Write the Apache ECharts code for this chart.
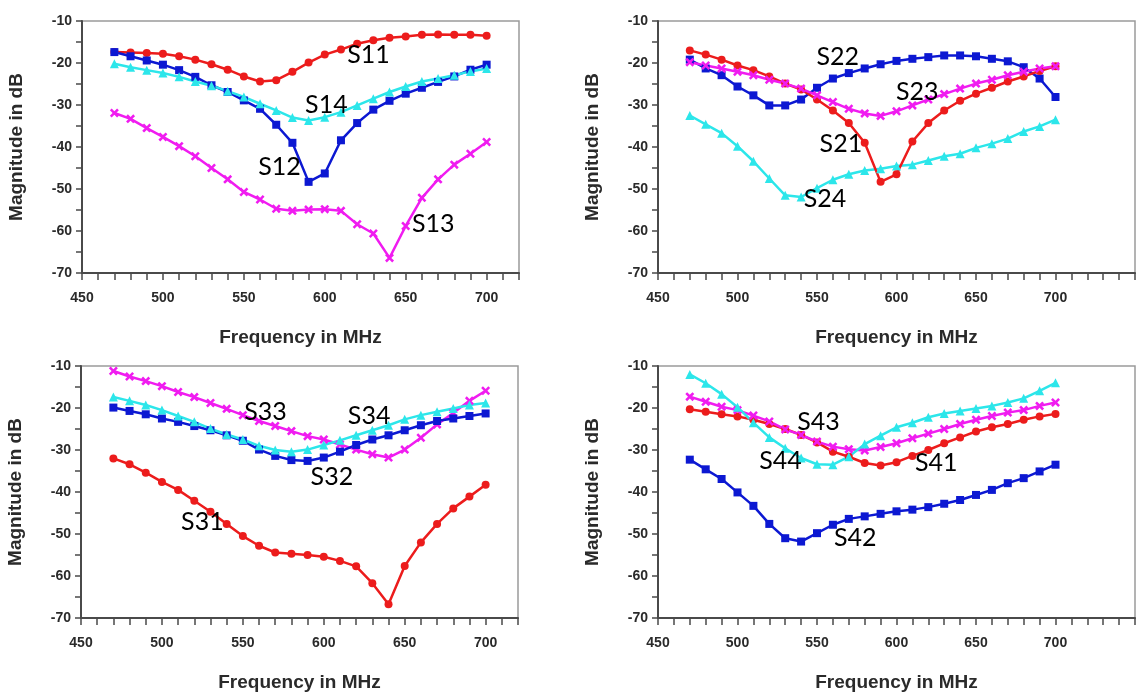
<!DOCTYPE html>
<html>
<head>
<meta charset="utf-8">
<script src="https://cdn.jsdelivr.net/npm/echarts@6/dist/echarts.min.js"></script>
<style>
  html, body { margin: 0; padding: 0; background: #ffffff; }
  #chart { width: 1138px; height: 696px; }
</style>
</head>
<body>
<div id="chart"></div>
<script>
// Frequency sweep (MHz) shared by all measured S-parameter curves
const freqs = [470, 480, 490, 500, 510, 520, 530, 540, 550, 560, 570, 580,
               590, 600, 610, 620, 630, 640, 650, 660, 670, 680, 690, 700];

// Port 1
const s11 = [-17.4, -17.5, -17.6, -17.8, -18.4, -19.2, -20.3, -21.6, -23.2, -24.4, -24.1, -22.1,
             -19.9, -18.0, -16.8, -15.4, -14.6, -14.0, -13.7, -13.3, -13.2, -13.3, -13.3, -13.5];
const s12 = [-17.4, -18.4, -19.4, -20.4, -21.7, -23.3, -25.3, -26.9, -28.9, -30.9, -34.7, -39.0,
             -48.3, -46.3, -38.4, -34.3, -31.1, -29.0, -27.3, -25.9, -24.5, -23.2, -21.6, -20.4];
const s13 = [-31.9, -33.3, -35.5, -37.6, -39.8, -42.2, -45.0, -47.7, -50.7, -52.5, -54.7, -55.2,
             -54.9, -54.8, -55.2, -58.4, -60.6, -66.4, -58.8, -52.1, -47.7, -44.2, -41.6, -38.8];
const s14 = [-20.2, -21.0, -21.7, -22.4, -23.3, -24.4, -25.4, -26.7, -28.1, -29.7, -31.3, -33.0,
             -33.7, -32.9, -31.7, -30.1, -28.5, -26.9, -25.6, -24.4, -23.7, -22.9, -22.0, -21.3];

// Port 2
const s21 = [-17.0, -18.0, -19.2, -20.6, -21.7, -23.2, -24.9, -26.3, -28.7, -31.3, -34.3, -39.0,
             -48.3, -46.5, -38.7, -34.3, -31.3, -29.0, -27.3, -25.9, -24.4, -23.2, -21.9, -20.8];
const s22 = [-19.2, -21.3, -22.9, -25.6, -27.7, -30.1, -30.1, -28.7, -25.9, -23.7, -22.4, -21.3,
             -20.3, -19.5, -19.0, -18.6, -18.2, -18.2, -18.4, -19.0, -19.6, -21.0, -23.7, -28.1];
const s23 = [-19.8, -20.6, -21.3, -22.1, -22.9, -24.0, -24.9, -26.1, -27.7, -29.3, -30.9, -32.0,
             -32.6, -31.5, -30.1, -28.7, -27.4, -26.1, -24.9, -24.0, -22.9, -22.1, -21.3, -20.8];
const s24 = [-32.5, -34.6, -36.7, -39.8, -43.4, -47.5, -51.5, -51.9, -49.8, -47.8, -46.5, -45.6,
             -45.2, -44.5, -44.2, -43.2, -42.2, -41.6, -40.2, -39.2, -38.0, -36.3, -35.1, -33.5];

// Port 3
const s31 = [-32.0, -33.4, -35.4, -37.6, -39.5, -42.1, -44.7, -47.6, -50.5, -52.8, -54.4, -54.7,
             -55.0, -55.4, -56.4, -57.7, -61.7, -66.7, -57.6, -52.0, -47.6, -43.9, -41.1, -38.3];
const s32 = [-19.9, -20.7, -21.5, -22.5, -23.3, -24.3, -25.3, -26.5, -27.8, -29.9, -31.4, -32.4,
             -32.6, -31.8, -30.4, -28.8, -27.5, -26.5, -25.3, -24.1, -23.1, -22.5, -21.9, -21.3];
const s33 = [-11.2, -12.5, -13.6, -14.8, -16.2, -17.4, -18.8, -20.2, -21.7, -23.1, -24.3, -25.5,
             -26.7, -27.5, -28.7, -29.9, -31.0, -31.8, -29.9, -27.1, -23.9, -21.2, -18.3, -15.9];
const s34 = [-17.4, -18.3, -19.3, -20.5, -21.9, -23.3, -24.9, -26.3, -27.5, -29.0, -30.0, -30.4,
             -29.9, -28.8, -27.7, -26.5, -25.3, -24.1, -22.7, -21.7, -20.9, -20.1, -19.3, -18.8];

// Port 4
const s41 = [-20.3, -20.9, -21.5, -22.0, -22.8, -23.8, -25.0, -26.4, -28.2, -30.4, -31.6, -33.1,
             -33.7, -32.9, -31.4, -30.0, -28.4, -27.0, -25.6, -24.6, -23.8, -22.8, -22.0, -21.4];
const s42 = [-32.3, -34.6, -36.9, -40.1, -43.3, -47.6, -51.0, -51.8, -49.8, -47.8, -46.4, -45.8,
             -45.2, -44.6, -44.2, -43.6, -42.8, -41.9, -40.7, -39.5, -37.9, -36.7, -35.1, -33.5];
const s43 = [-17.3, -18.5, -19.7, -20.5, -21.8, -23.2, -25.1, -26.4, -28.0, -29.2, -29.8, -30.1,
             -29.3, -28.4, -27.2, -26.1, -25.0, -23.8, -22.8, -21.9, -21.1, -20.5, -19.5, -18.7];
const s44 = [-12.0, -14.1, -16.7, -19.8, -23.5, -27.0, -29.6, -31.9, -33.4, -33.5, -31.6, -28.6,
             -26.6, -24.6, -23.5, -22.2, -21.3, -20.7, -20.1, -19.5, -18.7, -17.7, -15.9, -14.0];

// Y-axis ticks (dB) and x-axis label step (MHz)
const dbTicks = { min: -70, max: -10, step: 5, labelStep: 10 };
const freqLabelStep = 50;

// Curve name tags, anchored in data units [MHz, dB] on each panel
const tags = [
  { panel: 0, text: 'S11', at: [627, -18.0] },
  { panel: 0, text: 'S14', at: [601, -30.1] },
  { panel: 0, text: 'S12', at: [572, -44.8] },
  { panel: 0, text: 'S13', at: [667, -58.4] },
  { panel: 1, text: 'S22', at: [563, -18.6] },
  { panel: 1, text: 'S23', at: [613, -26.9] },
  { panel: 1, text: 'S21', at: [565, -39.2] },
  { panel: 1, text: 'S24', at: [555, -52.3] },
  { panel: 2, text: 'S33', at: [564, -20.9] },
  { panel: 2, text: 'S34', at: [628, -21.9] },
  { panel: 2, text: 'S32', at: [605, -36.5] },
  { panel: 2, text: 'S31', at: [525, -47.1] },
  { panel: 3, text: 'S43', at: [551, -23.2] },
  { panel: 3, text: 'S44', at: [527, -32.6] },
  { panel: 3, text: 'S41', at: [625, -33.1] },
  { panel: 3, text: 'S42', at: [574, -51.0] }
];

const RED = '#ec1c1c', BLUE = '#0c18d2', MAGENTA = '#f01cf0', CYAN = '#2ce6ea';
const CROSS = 'path://M2,0 L5,3 L8,0 L10,2 L7,5 L10,8 L8,10 L5,7 L2,10 L0,8 L3,5 L0,2 Z';

const styleOf = {
  red:     { color: RED,     symbol: 'circle',   size: 8 },
  blue:    { color: BLUE,    symbol: 'rect',     size: 8 },
  magenta: { color: MAGENTA, symbol: CROSS,      size: 9 },
  cyan:    { color: CYAN,    symbol: 'triangle', size: 9 }
};

// Draw order within each panel follows the curves' stacking
const panels = [
  [['S11', s11, 'red'], ['S13', s13, 'magenta'], ['S12', s12, 'blue'], ['S14', s14, 'cyan']],
  [['S24', s24, 'cyan'], ['S22', s22, 'blue'], ['S21', s21, 'red'], ['S23', s23, 'magenta']],
  [['S31', s31, 'red'], ['S33', s33, 'magenta'], ['S32', s32, 'blue'], ['S34', s34, 'cyan']],
  [['S42', s42, 'blue'], ['S41', s41, 'red'], ['S43', s43, 'magenta'], ['S44', s44, 'cyan']]
];

const grids = [
  { left: 82,  top: 21,  width: 437, height: 252, xMax: 720 },
  { left: 658, top: 21,  width: 485, height: 252, xMax: 750 },
  { left: 81,  top: 366, width: 437, height: 252, xMax: 720 },
  { left: 658, top: 366, width: 485, height: 252, xMax: 750 }
];

const tickFont = {
  fontFamily: '"Liberation Sans", Arial, sans-serif',
  fontWeight: 'bold',
  fontSize: 14,
  color: '#2a2a2a'
};
const nameFont = {
  fontFamily: '"Liberation Sans", Arial, sans-serif',
  fontWeight: 'bold',
  fontSize: 19,
  color: '#2a2a2a'
};

const option = {
  backgroundColor: '#ffffff',
  animation: false,
  grid: grids.map(g => ({
    left: g.left, top: g.top, width: g.width, height: g.height,
    show: true, borderColor: '#9a9a9a', borderWidth: 1.5, backgroundColor: 'transparent'
  })),
  xAxis: grids.map((g, i) => ({
    type: 'value', gridIndex: i,
    min: 450, max: g.xMax, interval: 10,
    name: 'Frequency in MHz', nameLocation: 'middle', nameGap: 55,
    nameTextStyle: nameFont,
    axisLine: { show: true, onZero: false, lineStyle: { color: '#4a4a4a', width: 2 } },
    axisTick: { show: true, inside: false, length: 7, lineStyle: { color: '#4a4a4a', width: 1.5 } },
    axisLabel: Object.assign({
      margin: 18,
      showMinLabel: true, showMaxLabel: true,
      formatter: v => (v % freqLabelStep === 0 && v <= 700) ? String(v) : ''
    }, tickFont),
    splitLine: { show: false }
  })),
  yAxis: grids.map((g, i) => ({
    type: 'value', gridIndex: i,
    min: dbTicks.min, max: dbTicks.max, interval: dbTicks.step,
    name: 'Magnitude in dB', nameLocation: 'middle', nameGap: 56, nameRotate: 90,
    nameTextStyle: nameFont,
    axisLine: { show: true, onZero: false, lineStyle: { color: '#4a4a4a', width: 2 } },
    axisTick: { show: true, inside: false, length: 6, lineStyle: { color: '#4a4a4a', width: 1.5 } },
    axisLabel: Object.assign({
      margin: 10,
      formatter: v => (v % dbTicks.labelStep === 0) ? String(v) : ''
    }, tickFont),
    splitLine: { show: false }
  })),
  series: []
};

panels.forEach((curves, p) => {
  curves.forEach(([name, values, key]) => {
    const st = styleOf[key];
    const myTags = tags.filter(t => t.panel === p && t.text === name);
    option.series.push({
      type: 'line',
      name: name,
      xAxisIndex: p,
      yAxisIndex: p,
      data: freqs.map((f, k) => [f, values[k]]),
      symbol: st.symbol,
      symbolSize: st.size,
      showAllSymbol: true,
      lineStyle: { color: st.color, width: 2.5 },
      itemStyle: { color: st.color, borderWidth: 0 },
      emphasis: { disabled: true },
      z: 3,
      markPoint: myTags.length ? {
        silent: true,
        symbol: 'circle',
        symbolSize: 0,
        label: {
          show: true,
          position: 'inside',
          formatter: name,
          fontFamily: 'Lato, "Open Sans", sans-serif',
          fontSize: 25,
          color: '#000000'
        },
        data: myTags.map(t => ({ coord: t.at }))
      } : undefined
    });
  });
});

const chart = echarts.init(document.getElementById('chart'), null, { renderer: 'canvas' });
chart.setOption(option);
</script>
</body>
</html>
